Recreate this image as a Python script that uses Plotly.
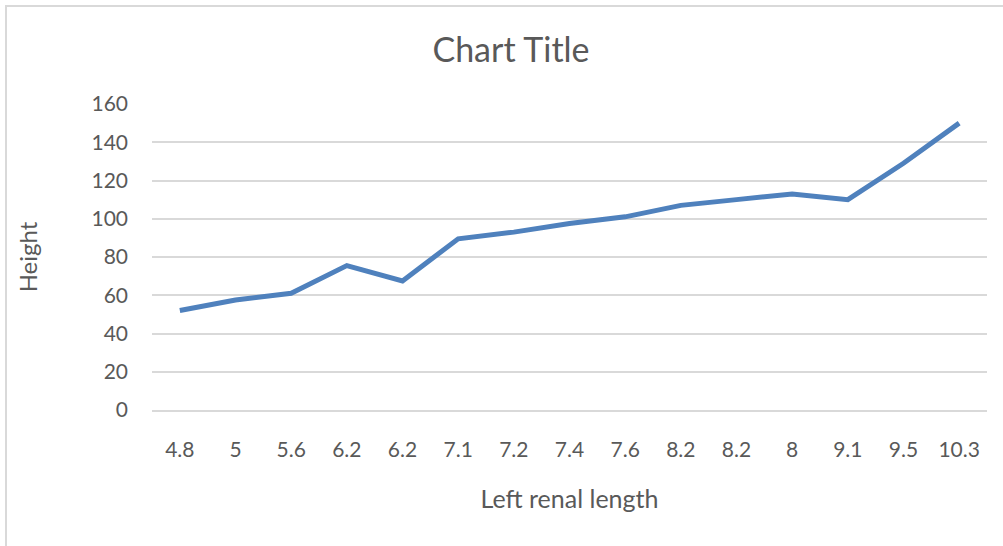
import plotly.graph_objects as go

# Left renal length categories (kept in recorded order, duplicates included)
renal_length = ["4.8", "5", "5.6", "6.2", "6.2", "7.1", "7.2", "7.4",
                "7.6", "8.2", "8.2", "8", "9.1", "9.5", "10.3"]
# Height for each record
height = [52, 57.5, 61, 75.5, 67.5, 89.5, 93, 97.5, 101, 107, 110, 113, 110, 129, 150]
y_ticks = [0, 20, 40, 60, 80, 100, 120, 140, 160]

positions = list(range(len(renal_length)))

FONT = "Lato"
GREY_TEXT = "#595959"
GRID = "#D9D9D9"

W, H = 1003, 546
L, R, T, B = 152, 16, 104, 136

fig = go.Figure()
fig.add_trace(go.Scatter(
    x=positions,
    y=height,
    mode="lines",
    line=dict(color="#4F81BD", width=5),
    hoverinfo="x+y",
    showlegend=False,
))

fig.update_layout(
    width=W,
    height=H,
    margin=dict(l=L, r=R, t=T, b=B, pad=0),
    paper_bgcolor="white",
    plot_bgcolor="white",
    font=dict(family=FONT, color=GREY_TEXT),
    title=dict(
        text="Chart Title",
        font=dict(family=FONT, size=34, color=GREY_TEXT),
        x=511 / W,
        xanchor="center",
        xref="container",
        y=1 - 50 / H,
        yanchor="middle",
        yref="container",
    ),
    xaxis=dict(
        range=[-0.5, len(renal_length) - 0.5],
        tickmode="array",
        tickvals=positions,
        ticktext=renal_length,
        showgrid=False,
        zeroline=False,
        showline=True,
        linecolor=GRID,
        linewidth=2,
        ticks="",
        tickfont=dict(family=FONT, size=21, color=GREY_TEXT),
        ticklabelstandoff=20,
        title=dict(text="Left renal length",
                   font=dict(family=FONT, size=25, color=GREY_TEXT),
                   standoff=30),
        fixedrange=True,
    ),
    yaxis=dict(
        range=[0, 160],
        tickmode="array",
        tickvals=y_ticks,
        showgrid=True,
        gridcolor=GRID,
        gridwidth=2,
        zeroline=False,
        showline=False,
        ticks="",
        tickfont=dict(family=FONT, size=21, color=GREY_TEXT),
        ticklabelstandoff=23,
        title=dict(text="Height",
                   font=dict(family=FONT, size=24, color=GREY_TEXT),
                   standoff=47),
        fixedrange=True,
    ),
)

# Light frame around the chart area
x_px = lambda px: (px - L) / (W - L - R)
y_px = lambda py: (H - B - py) / (H - T - B)
fig.add_shape(
    type="rect",
    xref="paper", yref="paper",
    x0=x_px(6), x1=x_px(1006),
    y0=y_px(560), y1=y_px(6),
    line=dict(color=GRID, width=2),
    fillcolor="rgba(0,0,0,0)",
    layer="below",
)

fig.write_html("out.html")
